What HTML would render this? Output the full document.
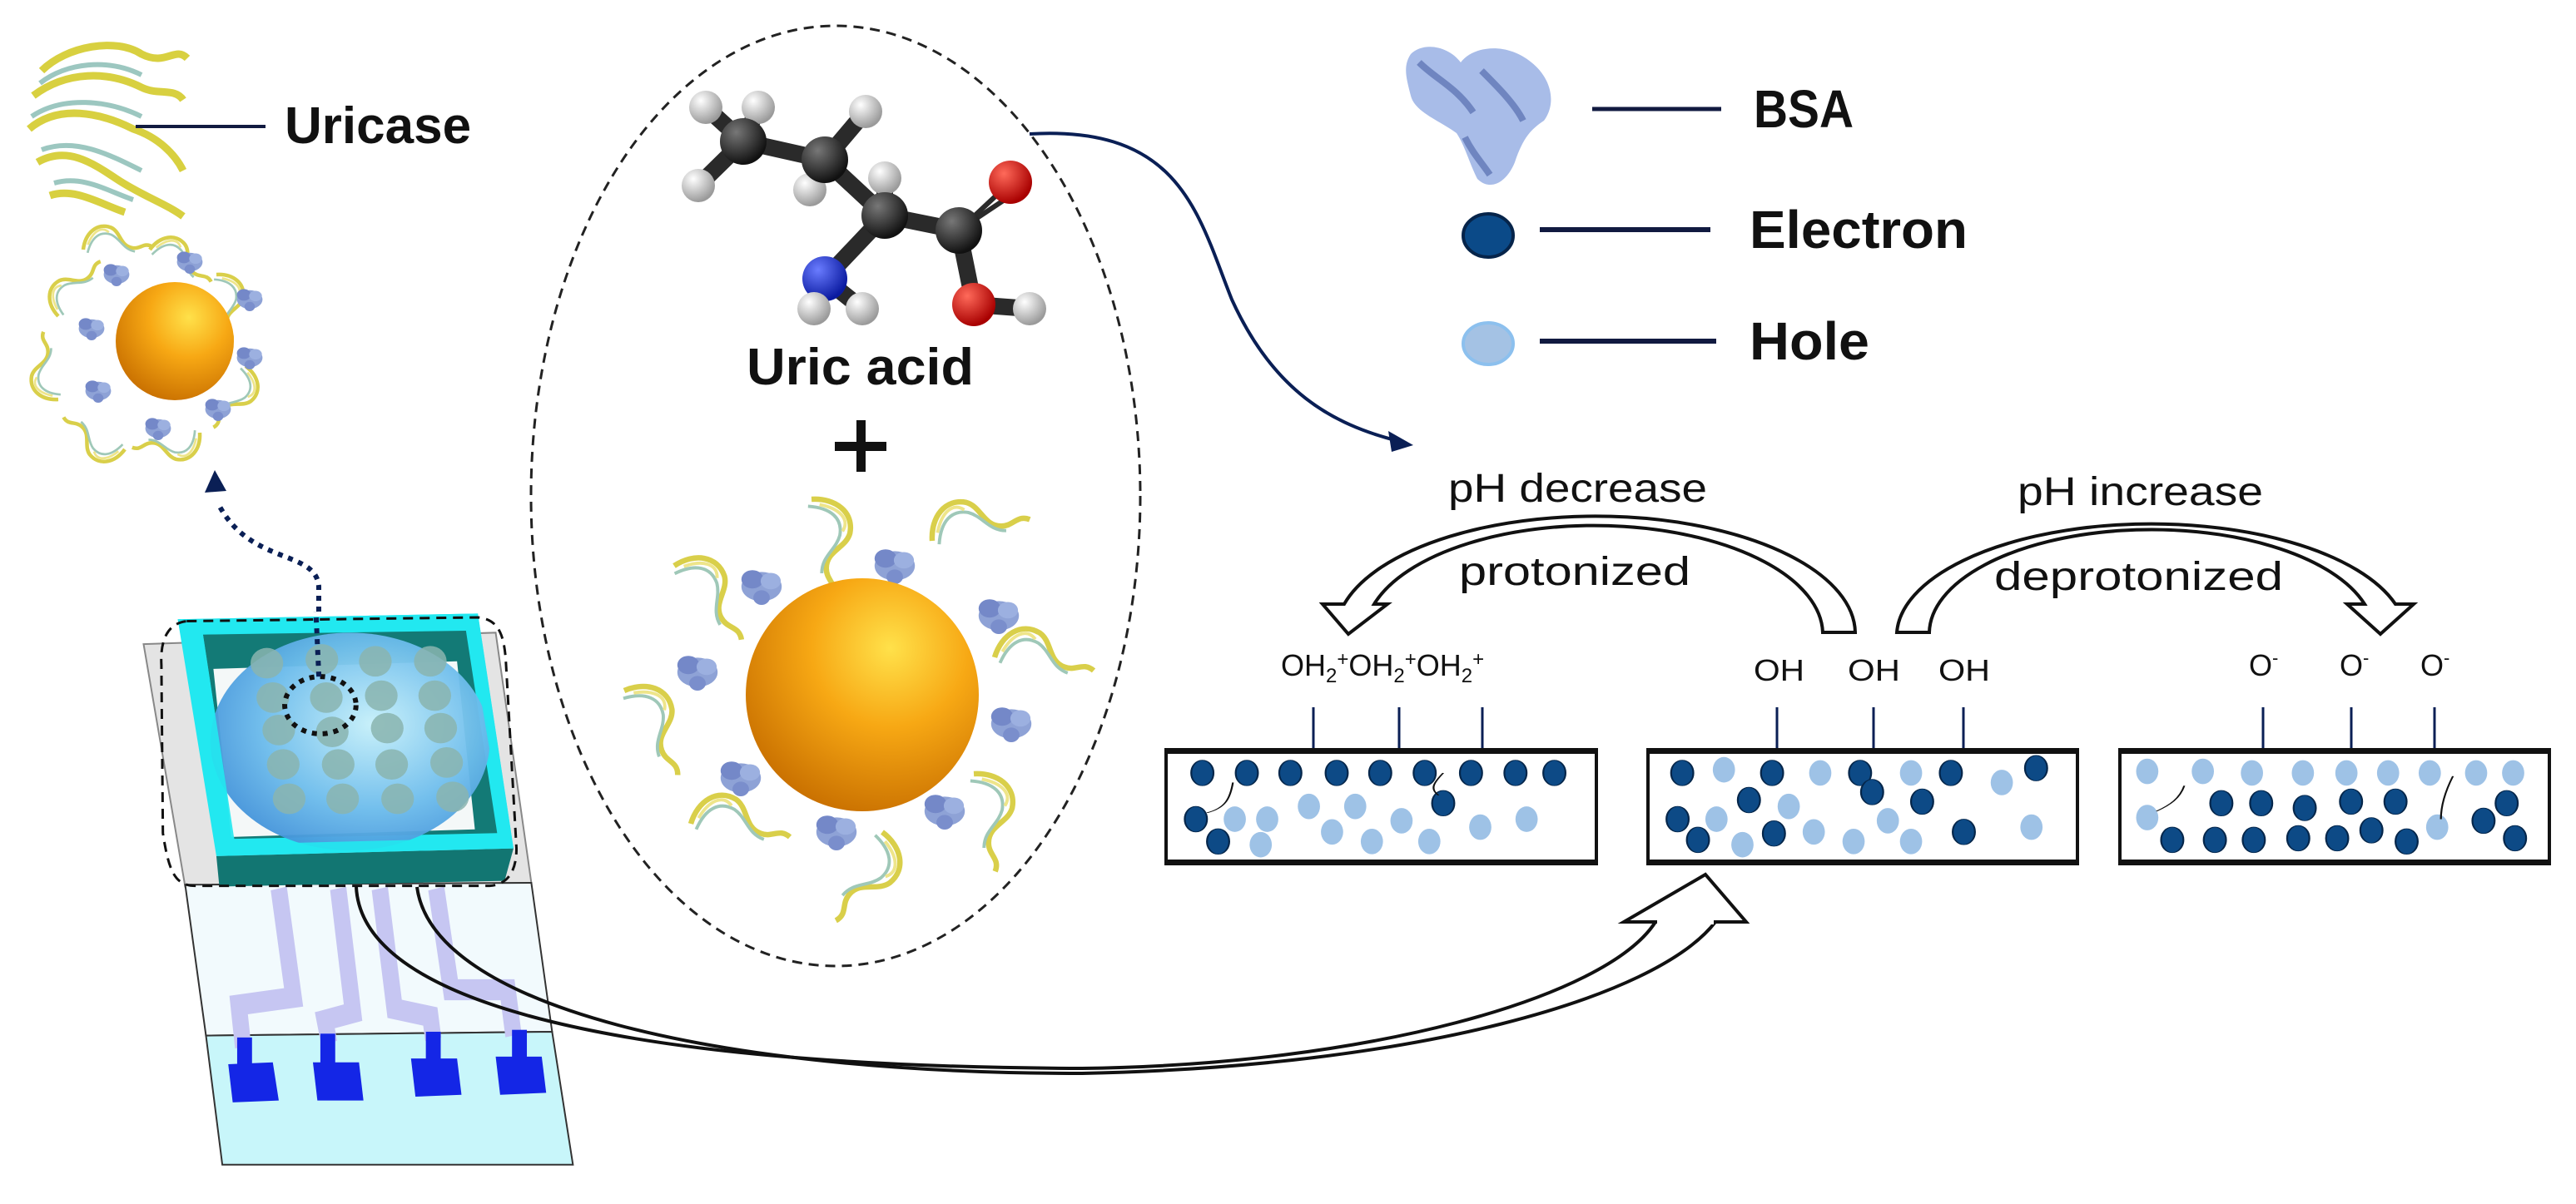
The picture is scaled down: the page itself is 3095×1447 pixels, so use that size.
<!DOCTYPE html>
<html><head><meta charset="utf-8"><style>
html,body{margin:0;padding:0;background:#fff;}
svg{display:block;}
text{font-family:"Liberation Sans",sans-serif;}
</style></head><body>
<svg width="3095" height="1447" viewBox="0 0 3095 1447" xmlns="http://www.w3.org/2000/svg">
<defs>
<radialGradient id="gold" cx="0.62" cy="0.3" r="0.75"><stop offset="0" stop-color="#ffe14a"/><stop offset="0.45" stop-color="#f7a814"/><stop offset="1" stop-color="#c86f00"/></radialGradient>
<radialGradient id="dome" cx="0.58" cy="0.42" r="0.65"><stop offset="0" stop-color="#c6f0fa"/><stop offset="0.6" stop-color="#6cbcec"/><stop offset="1" stop-color="#3f8fd8"/></radialGradient>
<radialGradient id="cg" cx="0.35" cy="0.3" r="0.7"><stop offset="0" stop-color="#777"/><stop offset="1" stop-color="#111"/></radialGradient>
<radialGradient id="hg" cx="0.35" cy="0.3" r="0.7"><stop offset="0" stop-color="#fff"/><stop offset="1" stop-color="#9a9a9a"/></radialGradient>
<radialGradient id="ng" cx="0.35" cy="0.3" r="0.7"><stop offset="0" stop-color="#6a7cff"/><stop offset="1" stop-color="#0a1aa0"/></radialGradient>
<radialGradient id="og" cx="0.35" cy="0.3" r="0.7"><stop offset="0" stop-color="#ff6a5a"/><stop offset="1" stop-color="#a80000"/></radialGradient>
<g id="rib"><path d="M0,0 C10,-20 30,-28 45,-15 C55,-5 48,12 62,20 C72,26 80,18 88,28" fill="none" stroke="#d9cf4a" stroke-width="5"/><path d="M4,6 C16,-12 30,-16 42,-6 C52,4 50,18 64,26" fill="none" stroke="#9fc8b8" stroke-width="3"/><path d="M8,-4 C20,-18 34,-22 40,-10" fill="none" stroke="#eee58a" stroke-width="3"/></g>
<g id="blob"><ellipse cx="0" cy="0" rx="22" ry="16" fill="#8ea2d6"/><ellipse cx="-10" cy="-8" rx="12" ry="10" fill="#7488c8"/><ellipse cx="10" cy="-6" rx="11" ry="9" fill="#9cb0e0"/><ellipse cx="0" cy="12" rx="9" ry="8" fill="#7a8ecc"/></g>
</defs>

<!-- Uricase protein -->
<g transform="translate(20,45)">
<path d="M30,40 C60,10 120,0 150,20 C180,35 190,10 205,25 M20,70 C60,40 110,40 150,60 C170,70 190,60 200,75 M15,110 C50,80 100,90 140,110 C170,120 190,140 200,160 M25,150 C60,130 90,150 120,170 C150,190 180,200 200,215 M40,190 C70,180 100,200 130,210" fill="none" stroke="#d8d040" stroke-width="9"/>
<path d="M28,55 C60,30 110,25 150,45 M18,95 C55,70 110,75 150,95 M30,135 C70,120 110,140 150,160 M45,175 C80,165 110,185 140,195" fill="none" stroke="#9cc7c0" stroke-width="6"/>
</g>
<line x1="163" y1="152" x2="319" y2="152" stroke="#111a40" stroke-width="4"/>
<text x="342" y="172" font-size="62" font-weight="bold" fill="#111">Uricase</text>

<!-- small functionalized sphere -->
<g>
<use href="#rib" transform="translate(100,300) rotate(-20) scale(0.9)"/>
<use href="#rib" transform="translate(180,300) rotate(10) scale(0.9)"/>
<use href="#rib" transform="translate(260,330) rotate(60) scale(0.9)"/>
<use href="#rib" transform="translate(295,440) rotate(100) scale(0.9)"/>
<use href="#rib" transform="translate(240,520) rotate(150) scale(0.9)"/>
<use href="#rib" transform="translate(150,540) rotate(190) scale(0.9)"/>
<use href="#rib" transform="translate(70,480) rotate(240) scale(0.9)"/>
<use href="#rib" transform="translate(70,380) rotate(290) scale(0.9)"/>
<use href="#blob" transform="translate(140,330) scale(0.7)"/>
<use href="#blob" transform="translate(228,315) scale(0.7)"/>
<use href="#blob" transform="translate(300,360) scale(0.7)"/>
<use href="#blob" transform="translate(300,430) scale(0.7)"/>
<use href="#blob" transform="translate(262,492) scale(0.7)"/>
<use href="#blob" transform="translate(190,515) scale(0.7)"/>
<use href="#blob" transform="translate(118,470) scale(0.7)"/>
<use href="#blob" transform="translate(110,395) scale(0.7)"/>
<circle cx="210" cy="410" r="71" fill="url(#gold)"/>
</g>

<!-- dotted arrow up -->
<path d="M383,735 L383,705 C380,660 300,680 262,605" fill="none" stroke="#0a1f55" stroke-width="6" stroke-dasharray="6,7"/>
<polygon points="258,565 246,592 272,590" fill="#0a1f55"/>

<!-- Chip -->
<g transform="translate(160,680) scale(0.357,0.459)">
<polygon points="35,205 1220,175 1340,830 175,840" fill="#e4e4e4" stroke="#888" stroke-width="2" vector-effect="non-scaling-stroke"/>
<polygon points="175,835 1340,830 1410,1220 245,1230" fill="#f2fafd" stroke="#333" stroke-width="2" vector-effect="non-scaling-stroke"/>
<polygon points="245,1230 1410,1220 1480,1568 300,1568" fill="#c8f6fa" stroke="#333" stroke-width="2" vector-effect="non-scaling-stroke"/>
<!-- traces -->
<g fill="none" stroke="#c6c6f2" stroke-width="55">
<path d="M490,845 L540,1130 L355,1150 L370,1260"/>
<path d="M690,845 L740,1170 L645,1190 L660,1250"/>
<path d="M830,845 L880,1160 L1000,1180 L1010,1240"/>
<path d="M1020,845 L1070,1110 L1260,1110 L1280,1230"/>
</g>
<g fill="#1426e6">
<rect x="350" y="1235" width="50" height="80"/><polygon points="320,1305 470,1300 490,1400 335,1405"/>
<rect x="630" y="1225" width="50" height="80"/><polygon points="605,1300 760,1300 775,1400 620,1400"/>
<rect x="985" y="1220" width="50" height="80"/><polygon points="935,1290 1090,1290 1105,1385 950,1390"/>
<rect x="1275" y="1215" width="50" height="80"/><polygon points="1220,1285 1375,1285 1390,1380 1235,1385"/>
</g>
<polygon points="150,140 1160,125 1280,740 280,760" fill="#22e8f0"/>
<polygon points="235,180 1120,170 1225,700 340,715" fill="#137a76"/>
<polygon points="270,270 1090,250 1150,690 330,710" fill="#f4f8f8"/>
<polygon points="280,760 1280,740 1250,825 290,840" fill="#127672"/>
<ellipse cx="730" cy="460" rx="470" ry="285" fill="url(#dome)" opacity="0.95"/>
<g fill="#8ab5b0" opacity="0.85">
<ellipse cx="450" cy="255" rx="55" ry="40"/><ellipse cx="635" cy="245" rx="55" ry="40"/><ellipse cx="815" cy="250" rx="55" ry="40"/><ellipse cx="1000" cy="250" rx="55" ry="40"/>
<ellipse cx="470" cy="345" rx="55" ry="40"/><ellipse cx="650" cy="345" rx="55" ry="40"/><ellipse cx="835" cy="340" rx="55" ry="40"/><ellipse cx="1015" cy="340" rx="55" ry="40"/>
<ellipse cx="490" cy="430" rx="55" ry="40"/><ellipse cx="670" cy="435" rx="55" ry="40"/><ellipse cx="855" cy="425" rx="55" ry="40"/><ellipse cx="1035" cy="425" rx="55" ry="40"/>
<ellipse cx="505" cy="520" rx="55" ry="40"/><ellipse cx="690" cy="520" rx="55" ry="40"/><ellipse cx="870" cy="520" rx="55" ry="40"/><ellipse cx="1055" cy="515" rx="55" ry="40"/>
<ellipse cx="525" cy="610" rx="55" ry="40"/><ellipse cx="705" cy="610" rx="55" ry="40"/><ellipse cx="890" cy="610" rx="55" ry="40"/><ellipse cx="1075" cy="605" rx="55" ry="40"/>
</g>
<polygon points="150,140 1160,125 1280,740 280,760 290,730 1250,712 1130,165 235,180 340,715 290,730" fill="#22e8f0" opacity="0.9"/>
<ellipse cx="630" cy="365" rx="120" ry="75" fill="none" stroke="#111" stroke-width="6" stroke-dasharray="6,7" vector-effect="non-scaling-stroke"/>
<line x1="625" y1="290" x2="615" y2="120" stroke="#0a1f55" stroke-width="6" stroke-dasharray="6,7" vector-effect="non-scaling-stroke"/>
<path d="M180,145 L1160,135 C1230,140 1250,180 1255,260 L1290,740 C1290,800 1260,835 1200,838 L210,838 C140,838 120,800 100,700 L95,260 C90,190 120,150 180,145 Z" fill="none" stroke="#111" stroke-width="3" stroke-dasharray="12,8" vector-effect="non-scaling-stroke"/>
</g>

<!-- hollow arrow from chip -->
<path d="M428,1066 C435,1210 760,1282 1300,1284 C1640,1280 1930,1200 1989,1108" fill="none" stroke="#111" stroke-width="4"/>
<path d="M501,1066 C520,1210 860,1290 1300,1290 C1700,1282 1990,1200 2061,1108" fill="none" stroke="#111" stroke-width="4"/>
<polygon points="2049,1051 1951,1108 1989,1108 2061,1108 2098,1108" fill="#fff" stroke="#111" stroke-width="4"/>
<line x1="1991" y1="1108" x2="2059" y2="1108" stroke="#fff" stroke-width="6"/>

<!-- dashed ellipse -->
<ellipse cx="1004" cy="596" rx="366" ry="565" fill="none" stroke="#222" stroke-width="3" stroke-dasharray="12,8"/>

<!-- molecule -->
<g stroke="#2a2a2a" stroke-width="20" stroke-linecap="round">
<line x1="893" y1="170" x2="991" y2="192"/><line x1="991" y1="192" x2="1063" y2="259"/><line x1="1063" y1="259" x2="1152" y2="277"/>
<line x1="1063" y1="259" x2="991" y2="335"/><line x1="1152" y1="277" x2="1170" y2="366"/>
<line x1="893" y1="170" x2="848" y2="129"/><line x1="893" y1="170" x2="911" y2="129"/><line x1="893" y1="170" x2="839" y2="223"/>
<line x1="991" y1="192" x2="1040" y2="134"/><line x1="991" y1="192" x2="973" y2="228"/><line x1="1063" y1="259" x2="1063" y2="214"/>
<line x1="991" y1="335" x2="978" y2="371"/><line x1="991" y1="335" x2="1036" y2="371"/><line x1="1170" y1="366" x2="1237" y2="371"/>
</g>
<g stroke="#2a2a2a" stroke-width="6"><line x1="1152" y1="277" x2="1214" y2="219"/><line x1="1165" y1="268" x2="1222" y2="230"/></g>
<g>
<circle cx="848" cy="129" r="20" fill="url(#hg)"/><circle cx="911" cy="129" r="20" fill="url(#hg)"/><circle cx="839" cy="223" r="20" fill="url(#hg)"/>
<circle cx="893" cy="170" r="28" fill="url(#cg)"/>
<circle cx="1040" cy="134" r="20" fill="url(#hg)"/><circle cx="973" cy="228" r="20" fill="url(#hg)"/>
<circle cx="991" cy="192" r="28" fill="url(#cg)"/>
<circle cx="1063" cy="214" r="20" fill="url(#hg)"/>
<circle cx="1063" cy="259" r="28" fill="url(#cg)"/>
<circle cx="1152" cy="277" r="28" fill="url(#cg)"/>
<circle cx="1214" cy="219" r="26" fill="url(#og)"/>
<circle cx="991" cy="335" r="27" fill="url(#ng)"/>
<circle cx="978" cy="371" r="20" fill="url(#hg)"/><circle cx="1036" cy="371" r="20" fill="url(#hg)"/>
<circle cx="1170" cy="366" r="26" fill="url(#og)"/><circle cx="1237" cy="371" r="20" fill="url(#hg)"/>
</g>
<text x="897" y="462" font-size="62" font-weight="bold" fill="#111" textLength="273" lengthAdjust="spacingAndGlyphs">Uric acid</text>
<rect x="1003" y="531" width="62" height="11" fill="#111"/><rect x="1029" y="505" width="11" height="62" fill="#111"/>

<!-- big functionalized sphere -->
<g>
<use href="#rib" transform="translate(975,600) rotate(60) scale(1.3)"/>
<use href="#rib" transform="translate(1120,650) rotate(-30) scale(1.3)"/>
<use href="#rib" transform="translate(1195,790) rotate(-10) scale(1.3)"/>
<use href="#rib" transform="translate(1170,930) rotate(60) scale(1.3)"/>
<use href="#rib" transform="translate(1060,1000) rotate(100) scale(1.3)"/>
<use href="#rib" transform="translate(830,990) rotate(-10) scale(1.3)"/>
<use href="#rib" transform="translate(750,830) rotate(40) scale(1.3)"/>
<use href="#rib" transform="translate(810,680) rotate(30) scale(1.3)"/>
<use href="#blob" transform="translate(1075,680) scale(1.1)"/>
<use href="#blob" transform="translate(1200,740) scale(1.1)"/>
<use href="#blob" transform="translate(1215,870) scale(1.1)"/>
<use href="#blob" transform="translate(1135,975) scale(1.1)"/>
<use href="#blob" transform="translate(1005,1000) scale(1.1)"/>
<use href="#blob" transform="translate(890,935) scale(1.1)"/>
<use href="#blob" transform="translate(838,808) scale(1.1)"/>
<use href="#blob" transform="translate(915,705) scale(1.1)"/>
<circle cx="1036" cy="835" r="140" fill="url(#gold)"/>
</g>

<!-- curved arrow molecule -> panel -->
<path d="M1237,161 C1420,150 1440,260 1480,360 C1530,470 1600,510 1680,530" fill="none" stroke="#0a1f55" stroke-width="4"/>
<polygon points="1698,535 1668,518 1672,543" fill="#0a1f55"/>

<!-- legend -->
<g transform="translate(1680,45)">
<path d="M15,20 C30,5 60,10 75,30 C90,10 130,5 160,30 C185,50 190,80 175,100 C160,110 150,120 140,150 C130,175 110,185 95,170 C85,150 80,130 70,115 C50,100 20,90 15,70 C10,50 5,35 15,20 Z" fill="#a8bce8"/>
<path d="M25,30 C45,50 70,60 90,90 M100,40 C120,60 140,80 150,100 M80,120 C90,140 100,150 110,165" stroke="#6f85c0" stroke-width="8" fill="none"/>
</g>
<line x1="1913" y1="131" x2="2068" y2="131" stroke="#111a40" stroke-width="5"/>
<text x="2107" y="153" font-size="64" font-weight="bold" fill="#111" textLength="120" lengthAdjust="spacingAndGlyphs">BSA</text>
<ellipse cx="1788" cy="283" rx="30" ry="26" fill="#0b4a88" stroke="#06244a" stroke-width="4"/>
<line x1="1850" y1="276" x2="2055" y2="276" stroke="#111a40" stroke-width="6"/>
<text x="2102" y="298" font-size="64" font-weight="bold" fill="#111" textLength="262" lengthAdjust="spacingAndGlyphs">Electron</text>
<ellipse cx="1788" cy="413" rx="30" ry="25" fill="#a4c2e4" stroke="#8cc0ee" stroke-width="4"/>
<line x1="1850" y1="410" x2="2062" y2="410" stroke="#111a40" stroke-width="6"/>
<text x="2102" y="432" font-size="64" font-weight="bold" fill="#111" textLength="144" lengthAdjust="spacingAndGlyphs">Hole</text>

<!-- pH arcs -->
<path d="M2229,760 A312,141 0 0 0 1615,726 L1589,726 L1620,762 L1667,726 L1651,726 A275,131 0 0 1 2190,760 Z" fill="#fff" stroke="#111" stroke-width="4"/>
<path d="M2279,760 A306,135 0 0 1 2878,726 L2900,726 L2860,762 L2820,726 L2841,726 A267,125 0 0 0 2318,760 Z" fill="#fff" stroke="#111" stroke-width="4"/>
<text x="1740" y="603" font-size="48" fill="#111" textLength="311" lengthAdjust="spacingAndGlyphs">pH decrease</text>
<text x="1753" y="703" font-size="48" fill="#111" textLength="278" lengthAdjust="spacingAndGlyphs">protonized</text>
<text x="2424" y="607" font-size="48" fill="#111" textLength="295" lengthAdjust="spacingAndGlyphs">pH increase</text>
<text x="2396" y="709" font-size="48" fill="#111" textLength="347" lengthAdjust="spacingAndGlyphs">deprotonized</text>

<g font-family="Liberation Serif, serif" fill="#111" font-size="36">
<text x="1539" y="812">OH<tspan font-size="24" dy="8">2</tspan><tspan font-size="24" dy="-20">+</tspan><tspan dy="12">OH</tspan><tspan font-size="24" dy="8">2</tspan><tspan font-size="24" dy="-20">+</tspan><tspan dy="12">OH</tspan><tspan font-size="24" dy="8">2</tspan><tspan font-size="24" dy="-20">+</tspan></text>
<text x="2107" y="818" textLength="61" lengthAdjust="spacingAndGlyphs">OH</text>
<text x="2220" y="818" textLength="63" lengthAdjust="spacingAndGlyphs">OH</text>
<text x="2329" y="818" textLength="62" lengthAdjust="spacingAndGlyphs">OH</text>
<text x="2702" y="812">O<tspan font-size="22" dy="-14">-</tspan></text>
<text x="2811" y="812">O<tspan font-size="22" dy="-14">-</tspan></text>
<text x="2908" y="812">O<tspan font-size="22" dy="-14">-</tspan></text>
</g>

<!-- stick lines -->
<g stroke="#0a1f55" stroke-width="3">
<line x1="1578" y1="850" x2="1578" y2="900"/><line x1="1681" y1="850" x2="1681" y2="900"/><line x1="1781" y1="850" x2="1781" y2="900"/>
<line x1="2135" y1="850" x2="2135" y2="900"/><line x1="2251" y1="850" x2="2251" y2="900"/><line x1="2359" y1="850" x2="2359" y2="900"/>
<line x1="2719" y1="850" x2="2719" y2="900"/><line x1="2825" y1="850" x2="2825" y2="900"/><line x1="2925" y1="850" x2="2925" y2="900"/>
</g>

<!-- boxes -->
<g fill="#fff" stroke="#111" stroke-width="4">
<rect x="1401" y="902" width="517" height="135"/>
<rect x="1980" y="902" width="516" height="135"/>
<rect x="2547" y="902" width="516" height="135"/>
</g>
<g fill="#111"><rect x="1399" y="899" width="521" height="7"/><rect x="1399" y="1033" width="521" height="7"/>
<rect x="1978" y="899" width="520" height="7"/><rect x="1978" y="1033" width="520" height="7"/>
<rect x="2545" y="899" width="520" height="7"/><rect x="2545" y="1033" width="520" height="7"/></g>

<g transform="translate(1350,500) scale(1.113,0.383)">
<g fill="#0d4a86" stroke="#05264a" stroke-width="2" vector-effect="non-scaling-stroke">
<ellipse cx="85" cy="1120" rx="12" ry="40"/><ellipse cx="133" cy="1120" rx="12" ry="40"/><ellipse cx="180" cy="1120" rx="12" ry="40"/><ellipse cx="230" cy="1120" rx="12" ry="40"/><ellipse cx="277" cy="1120" rx="12" ry="40"/><ellipse cx="325" cy="1120" rx="12" ry="40"/><ellipse cx="375" cy="1120" rx="12" ry="40"/><ellipse cx="423" cy="1120" rx="12" ry="40"/><ellipse cx="465" cy="1120" rx="12" ry="40"/><ellipse cx="345" cy="1215" rx="12" ry="40"/><ellipse cx="78" cy="1265" rx="12" ry="40"/><ellipse cx="102" cy="1335" rx="12" ry="40"/>
<ellipse cx="603" cy="1120" rx="12" ry="40"/><ellipse cx="700" cy="1120" rx="12" ry="40"/><ellipse cx="795" cy="1120" rx="12" ry="40"/><ellipse cx="893" cy="1120" rx="12" ry="40"/><ellipse cx="985" cy="1105" rx="12" ry="40"/><ellipse cx="675" cy="1205" rx="12" ry="40"/><ellipse cx="808" cy="1180" rx="12" ry="40"/><ellipse cx="862" cy="1210" rx="12" ry="40"/><ellipse cx="598" cy="1265" rx="12" ry="40"/><ellipse cx="620" cy="1330" rx="12" ry="40"/><ellipse cx="702" cy="1310" rx="12" ry="40"/><ellipse cx="907" cy="1305" rx="12" ry="40"/>
<ellipse cx="1185" cy="1215" rx="12" ry="40"/><ellipse cx="1228" cy="1215" rx="12" ry="40"/><ellipse cx="1275" cy="1230" rx="12" ry="40"/><ellipse cx="1325" cy="1210" rx="12" ry="40"/><ellipse cx="1373" cy="1210" rx="12" ry="40"/><ellipse cx="1493" cy="1215" rx="12" ry="40"/><ellipse cx="1468" cy="1270" rx="12" ry="40"/><ellipse cx="1132" cy="1330" rx="12" ry="40"/><ellipse cx="1178" cy="1330" rx="12" ry="40"/><ellipse cx="1220" cy="1330" rx="12" ry="40"/><ellipse cx="1268" cy="1325" rx="12" ry="40"/><ellipse cx="1310" cy="1325" rx="12" ry="40"/><ellipse cx="1347" cy="1300" rx="12" ry="40"/><ellipse cx="1385" cy="1335" rx="12" ry="40"/><ellipse cx="1502" cy="1325" rx="12" ry="40"/>
</g>
<g fill="#9ec2e6">
<ellipse cx="120" cy="1265" rx="12" ry="40"/><ellipse cx="155" cy="1265" rx="12" ry="40"/><ellipse cx="200" cy="1225" rx="12" ry="40"/><ellipse cx="250" cy="1225" rx="12" ry="40"/><ellipse cx="225" cy="1305" rx="12" ry="40"/><ellipse cx="300" cy="1270" rx="12" ry="40"/><ellipse cx="268" cy="1335" rx="12" ry="40"/><ellipse cx="330" cy="1335" rx="12" ry="40"/><ellipse cx="385" cy="1290" rx="12" ry="40"/><ellipse cx="435" cy="1265" rx="12" ry="40"/><ellipse cx="148" cy="1345" rx="12" ry="40"/>
<ellipse cx="648" cy="1110" rx="12" ry="40"/><ellipse cx="752" cy="1120" rx="12" ry="40"/><ellipse cx="850" cy="1120" rx="12" ry="40"/><ellipse cx="948" cy="1150" rx="12" ry="40"/><ellipse cx="718" cy="1225" rx="12" ry="40"/><ellipse cx="640" cy="1265" rx="12" ry="40"/><ellipse cx="745" cy="1305" rx="12" ry="40"/><ellipse cx="788" cy="1335" rx="12" ry="40"/><ellipse cx="825" cy="1270" rx="12" ry="40"/><ellipse cx="850" cy="1335" rx="12" ry="40"/><ellipse cx="668" cy="1345" rx="12" ry="40"/><ellipse cx="980" cy="1290" rx="12" ry="40"/>
<ellipse cx="1105" cy="1115" rx="12" ry="40"/><ellipse cx="1165" cy="1115" rx="12" ry="40"/><ellipse cx="1218" cy="1120" rx="12" ry="40"/><ellipse cx="1273" cy="1120" rx="12" ry="40"/><ellipse cx="1320" cy="1120" rx="12" ry="40"/><ellipse cx="1365" cy="1120" rx="12" ry="40"/><ellipse cx="1410" cy="1120" rx="12" ry="40"/><ellipse cx="1460" cy="1120" rx="12" ry="40"/><ellipse cx="1500" cy="1120" rx="12" ry="40"/><ellipse cx="1105" cy="1260" rx="12" ry="40"/><ellipse cx="1418" cy="1290" rx="12" ry="40"/>
</g>
<g fill="none" stroke="#111" stroke-width="2" vector-effect="non-scaling-stroke">
<path d="M90,1245 C110,1230 115,1200 118,1150"/><path d="M340,1190 C330,1170 335,1150 345,1120"/>
<path d="M1115,1240 C1130,1220 1140,1200 1145,1160"/><path d="M1422,1265 C1422,1220 1428,1170 1435,1130"/>
</g>
</g>
</svg>
</body></html>
